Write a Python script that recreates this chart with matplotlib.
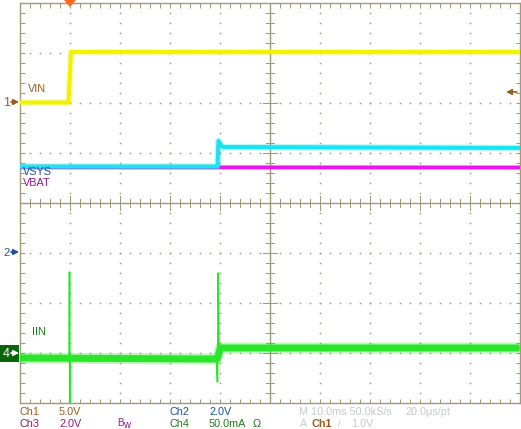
import numpy as np
import matplotlib
matplotlib.use("Agg")
import matplotlib.pyplot as plt
from matplotlib.ticker import MultipleLocator
from matplotlib.patches import Polygon, Rectangle, FancyArrowPatch
from matplotlib.transforms import IdentityTransform

# ---------------- data (time in ms relative to trigger) ----------------
vin_t = [-10, -0.2, 0.3, 90]
vin_v = [0.05, 0.05, 5.1, 5.1]            # V   (Ch1)

vsys_t = [-10, 29.6, 29.8, 30.6, 90]
vsys_v = [3.46, 3.46, 4.48, 4.24, 4.2]    # V   (Ch2)

vbat_t = [-10, 90]
vbat_v = [3.43, 3.42]                     # V   (Ch3)

iin_base_t = [-10, 29.5, 30.2, 90]
iin_base_v = [-5, -6, 5, 5]               # mA  (Ch4, average level)
iin_t = [-10, -0.05, 0.0, 0.05, 0.1, 29.4, 29.6, 29.75, 29.9, 30.2, 90]
iin_v = [-5, -5, 81, -60, -5, -6, -29, 80, 10, 5, 5]

# channel settings: scale per division, offset (div)
ch_scale = {"Ch1": 5.0, "Ch2": 2.0, "Ch3": 2.0, "Ch4": 50.0}
ch_offset = {"Ch1": 2.0, "Ch2": -1.0, "Ch3": -1.0, "Ch4": -3.0}

bottom_row1 = [("Ch1", "5.0V"), ("Ch2", "2.0V")]
bottom_row2 = [("Ch3", "2.0V"), ("Ch4", "50.0mA")]

# ---------------- styling ----------------
W, H = 521, 429
PX = 0.72  # points per pixel at dpi 100
GRID = "#a09a78"
C_CH1 = "#9a5c1c"
C_CH2 = "#1c4f9c"
C_CH3 = "#8a1a8a"
C_CH4 = "#1e7a1e"
C_GRAY = "#c8c8c8"
YEL = "#f2f200"
CYAN = "#1ae4f0"
MAG = "#ee12ee"
GRN = "#2ae62a"
FONT = "Liberation Sans"
FS = 7.8

def to_div(ch, vals):
    return np.asarray(vals, dtype=float) / ch_scale[ch] + ch_offset[ch]

fig = plt.figure(figsize=(W / 100, H / 100), dpi=100)
fig.patch.set_facecolor("white")
ax = fig.add_axes([19.5 / W, 26 / H, 500 / W, 400 / H])
ax.set_xlim(-10, 90)
ax.set_ylim(-4, 4)
ax.set_facecolor("white")
for s in ax.spines.values():
    s.set_color(GRID)
    s.set_linewidth(1.0 * PX * 1.4)
ax.xaxis.set_major_locator(MultipleLocator(10))
ax.xaxis.set_minor_locator(MultipleLocator(2))
ax.yaxis.set_major_locator(MultipleLocator(1))
ax.yaxis.set_minor_locator(MultipleLocator(0.2))
ax.tick_params(which="both", direction="in", top=True, right=True,
               labelbottom=False, labelleft=False, color=GRID,
               width=1.0 * PX, length=4.5 * PX)

# dotted graticule
xs_div = [x for x in np.arange(0, 90, 10) if x != 40]
ys_div = [y for y in np.arange(-3, 4, 1) if y != 0]
dot_y = np.arange(-4, 4.01, 0.2)
dot_x = np.arange(-10, 90.01, 2)
for x in xs_div:
    ax.plot(np.full_like(dot_y, x), dot_y, ls="none", marker="s",
            ms=1.1, mew=0, color=GRID, zorder=1)
for y in ys_div:
    ax.plot(dot_x, np.full_like(dot_x, y), ls="none", marker="s",
            ms=1.1, mew=0, color=GRID, zorder=1)

# centre cross with ticks
ax.axhline(0, color=GRID, lw=1.0 * PX * 1.4, zorder=1)
ax.axvline(40, color=GRID, lw=1.0 * PX * 1.4, zorder=1)
for x in dot_x:
    h = 0.14 if abs((x + 10) % 10) < 1e-6 else 0.08
    ax.plot([x, x], [-h, h], color=GRID, lw=1.0 * PX, zorder=1)
for y in dot_y:
    h = 1.4 if abs(round(y) - y) < 1e-6 else 0.8
    ax.plot([40 - h, 40 + h], [y, y], color=GRID, lw=1.0 * PX, zorder=1)

# traces
ax.plot(iin_base_t, to_div("Ch4", iin_base_v), color=GRN, lw=11 * PX, alpha=0.3,
        solid_capstyle="butt", zorder=3)
ax.plot(iin_base_t, to_div("Ch4", iin_base_v), color=GRN, lw=7 * PX,
        solid_capstyle="butt", zorder=3)
ax.plot(iin_t, to_div("Ch4", iin_v), color=GRN, lw=1.6 * PX, zorder=3)

ax.plot(vbat_t, to_div("Ch3", vbat_v), color=MAG, lw=5 * PX, alpha=0.3, zorder=4)
ax.plot(vbat_t, to_div("Ch3", vbat_v), color=MAG, lw=3.5 * PX, zorder=4)
ax.plot(vsys_t, to_div("Ch2", vsys_v), color=CYAN, lw=6.5 * PX, alpha=0.3, zorder=5)
ax.plot(vsys_t, to_div("Ch2", vsys_v), color=CYAN, lw=4 * PX, zorder=5)
ax.plot(vin_t, to_div("Ch1", vin_v), color=YEL, lw=6.5 * PX, alpha=0.3, zorder=6)
ax.plot(vin_t, to_div("Ch1", vin_v), color=YEL, lw=4 * PX, zorder=6)

# ---------------- text helpers (pixel positions from top-left) ----------------
def ftext(x, y, s, color, size=FS, **kw):
    fig.text(x / W, 1 - y / H, s, color=color, fontsize=size, family=FONT,
             ha="left", va="center", **kw)

def arrow(x0, x1, y, color):
    fig.add_artist(FancyArrowPatch((x0, H - y), (x1, H - y),
                                   transform=IdentityTransform(),
                                   arrowstyle="-|>", mutation_scale=8,
                                   lw=1.2, color=color, shrinkA=0, shrinkB=0))

# trace labels
ftext(28, 89, "VIN", C_CH1)
ftext(23, 172, "VSYS", C_CH2)
ftext(23, 183, "VBAT", C_CH3)
ftext(32, 332, "IIN", C_CH4)

# channel markers
ftext(3, 102.5, "1", C_CH1, size=9)
arrow(11, 19, 102, C_CH1)
ftext(3, 252.5, "2", C_CH2, size=8)
arrow(11, 19, 252, C_CH2)
fig.add_artist(Rectangle((0, H - 362), 19, 17, transform=IdentityTransform(),
                         facecolor="#0b650b", edgecolor="none"))
ftext(3, 354, "4", "white", size=9)
arrow(11, 19, 353, "white")

# trigger markers
fig.add_artist(Polygon([(64, H), (76, H), (70, H - 7)], closed=True,
                       transform=IdentityTransform(), facecolor="#ff6a1a",
                       edgecolor="none"))
arrow(517, 506, 92, C_CH1)

# bottom status text
ftext(20, 412, bottom_row1[0][0], C_CH1)
ftext(59, 412, bottom_row1[0][1], C_CH1)
ftext(170, 412, bottom_row1[1][0], C_CH2)
ftext(209, 412, bottom_row1[1][1], C_CH2)
ftext(20, 424, bottom_row2[0][0], C_CH3)
ftext(59, 424, bottom_row2[0][1], C_CH3)
ftext(170, 424, bottom_row2[1][0], C_CH4)
ftext(209, 424, bottom_row2[1][1], C_CH4)
ftext(253, 424, "Ω", C_CH4)
ftext(117.5, 423, "B", C_CH3, size=7)
ftext(123.5, 424.5, "w", C_CH3, size=7)

ftext(299, 412, "M 10.0ms 50.0kS/s", C_GRAY)
ftext(405, 412, "20.0μs/pt", C_GRAY)
ftext(300, 424, "A", C_GRAY)
ftext(311, 424, "Ch1", C_CH1, fontweight="bold")
ftext(338, 424, "/", C_GRAY, size=7)
ftext(351, 424, "1.0V", C_GRAY)

fig.savefig("out.png", dpi=100, facecolor="white")
